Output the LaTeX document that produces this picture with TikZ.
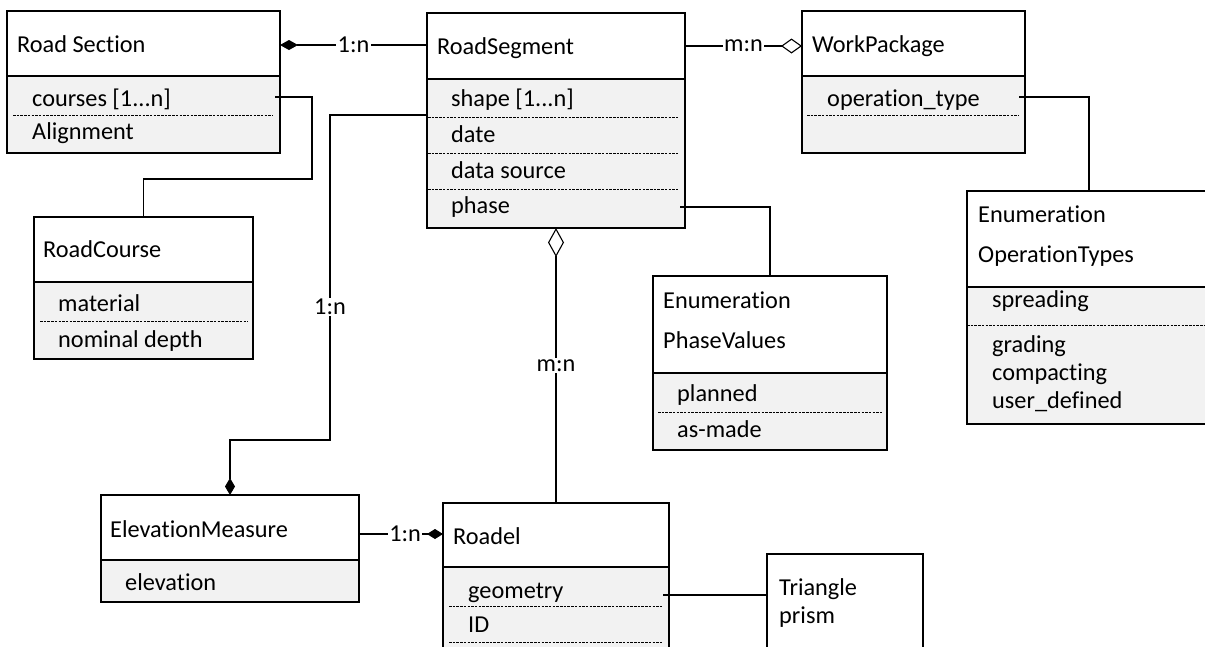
\documentclass[tikz,border=0pt]{standalone}
\usepackage{fontspec}
\setmainfont{Carlito}[Ligatures={NoCommon}]
\usetikzlibrary{arrows.meta}
\definecolor{attgray}{HTML}{F2F2F2}
\tikzset{
  hdr/.style={draw, line width=1.3pt, fill=white, anchor=north west, inner sep=0pt, outer sep=0pt},
  att/.style={draw, line width=1.3pt, fill=attgray, anchor=north west, inner sep=0pt, outer sep=0pt},
  txt/.style={anchor=base west, inner sep=0pt, font=\fontsize{24.3}{28}\selectfont},
  lbl/.style={fill=white, inner sep=1.5pt, font=\fontsize{24.3}{28}\selectfont},
  sep/.style={line width=0.9pt, dash pattern=on 2.5pt off 1.2pt},
  conn/.style={line width=1.1pt},
  filldia/.style={-{Diamond[length=#1, width=10pt, fill=black]}},
  opendia/.style={-{Diamond[open, length=#1, width=15pt, fill=white]}}
}
\begin{document}
\begin{tikzpicture}[x=1pt, y=-1pt]
\useasboundingbox (0,0) rectangle (1205,646);

% ---------- Road Section ----------
\node[hdr, minimum width=273pt, minimum height=65pt] (rsecH) at (7,11) {};
\node[att, minimum width=273pt, minimum height=77pt] (rsecA) at (7,76) {};
\node[txt] (rsecT) at (17,52) {Road Section};
\node[txt] (rsec1) at (32,106) {courses [1...n]};
\node[txt] (rsec2) at (32,139) {Alignment};
\draw[sep] (13,115) -- (273,115);

% ---------- RoadSegment ----------
\node[hdr, minimum width=258pt, minimum height=66pt] (rsegH) at (427,13) {};
\node[att, minimum width=258pt, minimum height=149pt] (rsegA) at (427,79) {};
\node[txt] (rsegT) at (437,54) {RoadSegment};
\node[txt] (rseg1) at (451,106) {shape [1...n]};
\node[txt] (rseg2) at (451,142) {date};
\node[txt] (rseg3) at (451,178) {data source};
\node[txt] (rseg4) at (451,213) {phase};
\draw[sep] (428,117) -- (678,117);
\draw[sep] (428,153) -- (678,153);
\draw[sep] (428,189) -- (678,189);

% ---------- WorkPackage ----------
\node[hdr, minimum width=223pt, minimum height=65pt] (wpH) at (802,11) {};
\node[att, minimum width=223pt, minimum height=77pt] (wpA) at (802,76) {};
\node[txt] (wpT) at (812,52) {WorkPackage};
\node[txt] (wp1) at (827,106) {operation\_type};
\draw[sep] (807,115) -- (1019,115);

% ---------- RoadCourse ----------
\node[hdr, minimum width=219pt, minimum height=65pt] (rcH) at (34,217) {};
\node[att, minimum width=219pt, minimum height=77pt] (rcA) at (34,282) {};
\node[txt] (rcT) at (43,257) {RoadCourse};
\node[txt] (rc1) at (58,311) {material};
\node[txt] (rc2) at (58,347) {nominal depth};
\draw[sep] (40,321) -- (248,321);

% ---------- Enumeration PhaseValues ----------
\node[hdr, minimum width=234pt, minimum height=97pt] (pvH) at (653,276) {};
\node[att, minimum width=234pt, minimum height=77pt] (pvA) at (653,373) {};
\node[txt] (pvT1) at (663,308) {Enumeration};
\node[txt] (pvT2) at (663,348) {PhaseValues};
\node[txt] (pv1) at (677,401) {planned};
\node[txt] (pv2) at (677,437) {as-made};
\draw[sep] (658,412) -- (882,412);

% ---------- Enumeration OperationTypes ----------
\node[hdr, minimum width=244pt, minimum height=96pt] (otH) at (967,191) {};
\node[att, minimum width=244pt, minimum height=137pt] (otA) at (967,287) {};
\node[txt] (otT1) at (978,222) {Enumeration};
\node[txt] (otT2) at (978,262) {OperationTypes};
\node[txt] (ot1) at (992,307) {spreading};
\node[txt] (ot2) at (992,352) {grading};
\node[txt] (ot3) at (992,380) {compacting};
\node[txt] (ot4) at (992,408) {user\_defined};
\draw[sep] (967,325) -- (1210,325);

% ---------- ElevationMeasure ----------
\node[hdr, minimum width=258pt, minimum height=65pt] (emH) at (101,495) {};
\node[att, minimum width=258pt, minimum height=42pt] (emA) at (101,560) {};
\node[txt] (emT) at (110,537) {ElevationMeasure};
\node[txt] (em1) at (125,590) {elevation};

% ---------- Roadel ----------
\node[hdr, minimum width=226pt, minimum height=64pt] (rdH) at (443,503) {};
\node[att, minimum width=226pt, minimum height=100pt] (rdA) at (443,567) {};
\node[txt] (rdT) at (453,544) {Roadel};
\node[txt] (rd1) at (468,598) {geometry};
\node[txt] (rd2) at (468,632) {ID};
\draw[sep] (449,606) -- (663,606);
\draw[sep] (449,642) -- (663,642);

% ---------- Triangle prism ----------
\node[hdr, minimum width=156pt, minimum height=110pt] (tpH) at (767,554) {};
\node[txt] (tpT1) at (779,595) {Triangle};
\node[txt] (tpT2) at (779,623) {prism};

% ---------- connector end points ----------
\coordinate (cC) at (275,97);
\coordinate (cS) at (427,115);
\coordinate (cP) at (680,207);
\coordinate (cO) at (1019,97);
\coordinate (cG) at (663,595);
\coordinate (cE) at (359,534);

% ---------- connectors ----------
% Road Section -- RoadSegment (composition)
\draw[conn, filldia=18pt] (rsegH.west |- 0,45) -- node[lbl] {1:n} (rsecH.east |- 0,45);
% RoadSegment -- WorkPackage (aggregation)
\draw[conn, opendia=21pt] (rsegH.east) -- node[lbl] {m:n} (wpH.west |- rsegH.east);
% courses -> RoadCourse
\draw[conn] (cC) -| (312,179) -| (rcH.north);
% RoadSegment -> ElevationMeasure (composition)
\draw[conn, filldia=17pt] (cS) -| (330,440) -| (emH.north);
\node[lbl] (l3) at (330,307) {1:n};
% RoadSegment -- Roadel (aggregation at RoadSegment)
\draw[conn, {Diamond[open, length=29pt, width=16pt, fill=white]}-] (rsegA.south) -- node[lbl] {m:n} (rdH.north);
% phase -> PhaseValues
\draw[conn] (cP) -| (pvH.north);
% operation_type -> OperationTypes
\draw[conn] (cO) -| (otH.north);
% ElevationMeasure -- Roadel (composition)
\draw[conn, filldia=16pt] (cE) -- node[lbl, pos=0.55] {1:n} (rdH.west |- cE);
% geometry -> Triangle prism
\draw[conn] (cG) -- (tpH.west |- cG);
\end{tikzpicture}
\end{document}
